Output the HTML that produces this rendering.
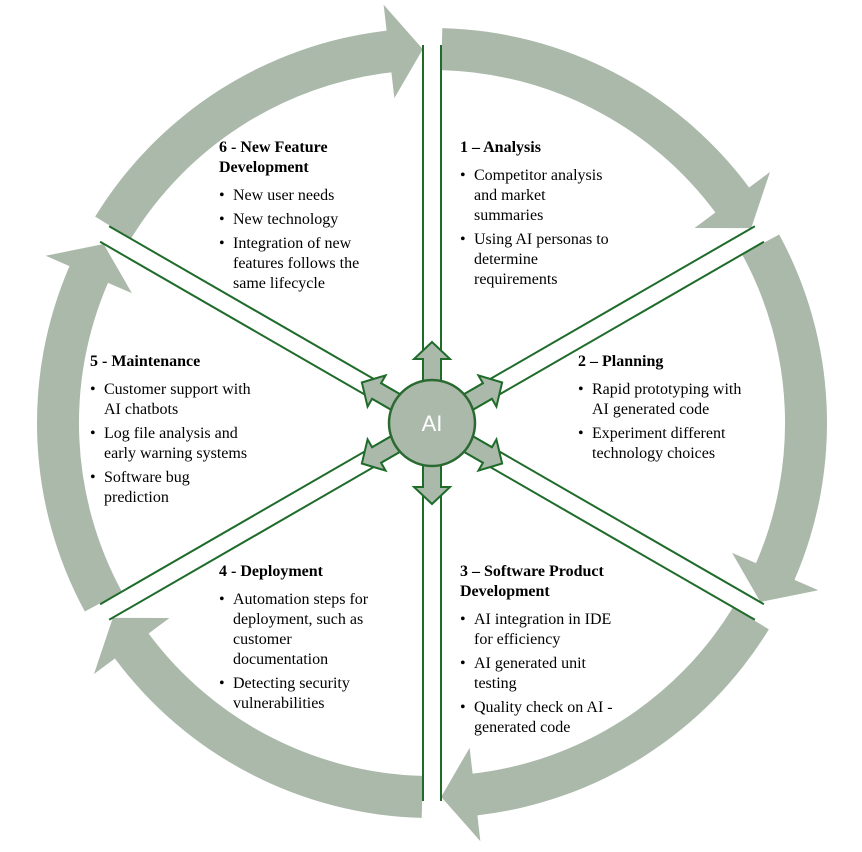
<!DOCTYPE html>
<html><head><meta charset="utf-8"><style>
html,body{margin:0;padding:0;background:#fff;overflow:hidden;width:862px;height:852px;}
#wrap{position:relative;width:862px;height:852px;overflow:hidden;}
svg{position:absolute;left:0;top:0;}
.blk{position:absolute;font-family:"Liberation Serif",serif;font-size:16px;line-height:20px;color:#000;}
.h{font-weight:bold;}
.b{position:relative;padding-left:14px;margin-top:4px;}
.b.f{margin-top:8px;}
.b:before{content:"•";position:absolute;left:0;top:0;}
</style></head><body><div id="wrap">
<svg width="862" height="852" viewBox="0 0 862 852">
<defs>
<path id="seg" d="M442.3,28.1 A395,395 0 0 1 749.1,187.5 L770.0,172.0 L751.2,228.1 L694.5,228.0 L715.4,212.5 A353,353 0 0 0 441.2,70.1 Z" fill="#abb9ab"/>
<g id="spoke">
<line x1="475" y1="414" x2="810" y2="414" stroke="#1e6b2a" stroke-width="2"/>
<line x1="475" y1="432" x2="810" y2="432" stroke="#1e6b2a" stroke-width="2"/>
<path d="M470,414 L496,414 L496,405 L513,423 L496,441 L496,432 L470,432 Z" fill="#abb9ab" stroke="#1e6b2a" stroke-width="2" stroke-linejoin="miter"/>
</g>
</defs>
<use href="#seg"/>
<use href="#seg" transform="rotate(60 432 423)"/>
<use href="#seg" transform="rotate(120 432 423)"/>
<use href="#seg" transform="rotate(180 432 423)"/>
<use href="#seg" transform="rotate(240 432 423)"/>
<use href="#seg" transform="rotate(300 432 423)"/>
<use href="#spoke" transform="rotate(-90 432 423)"/>
<use href="#spoke" transform="rotate(-30 432 423)"/>
<use href="#spoke" transform="rotate(30 432 423)"/>
<use href="#spoke" transform="rotate(90 432 423)"/>
<use href="#spoke" transform="rotate(150 432 423)"/>
<use href="#spoke" transform="rotate(210 432 423)"/>
<circle cx="432" cy="423" r="43" fill="#abb9ab" stroke="#2a6a30" stroke-width="2.5"/>
<text x="432" y="431" text-anchor="middle" font-family="Liberation Sans,sans-serif" font-size="22" fill="#fff">AI</text>
</svg>

<div class="blk" style="left:460px;top:138px;width:190px">
<div class="h">1 – Analysis</div>
<div class="b f">Competitor analysis<br>and market<br>summaries</div>
<div class="b">Using AI personas to<br>determine<br>requirements</div>
</div>

<div class="blk" style="left:578px;top:352px;width:220px">
<div class="h">2 – Planning</div>
<div class="b f">Rapid prototyping with<br>AI generated code</div>
<div class="b">Experiment different<br>technology choices</div>
</div>

<div class="blk" style="left:460px;top:562px;width:200px">
<div class="h">3 – Software Product<br>Development</div>
<div class="b f">AI integration in IDE<br>for efficiency</div>
<div class="b">AI generated unit<br>testing</div>
<div class="b">Quality check on AI -<br>generated code</div>
</div>

<div class="blk" style="left:219px;top:562px;width:200px">
<div class="h">4 - Deployment</div>
<div class="b f">Automation steps for<br>deployment, such as<br>customer<br>documentation</div>
<div class="b">Detecting security<br>vulnerabilities</div>
</div>

<div class="blk" style="left:90px;top:352px;width:210px">
<div class="h">5 - Maintenance</div>
<div class="b f">Customer support with<br>AI chatbots</div>
<div class="b">Log file analysis and<br>early warning systems</div>
<div class="b">Software bug<br>prediction</div>
</div>

<div class="blk" style="left:219px;top:138px;width:200px">
<div class="h">6 - New Feature<br>Development</div>
<div class="b f">New user needs</div>
<div class="b">New technology</div>
<div class="b">Integration of new<br>features follows the<br>same lifecycle</div>
</div>
</div></body></html>
